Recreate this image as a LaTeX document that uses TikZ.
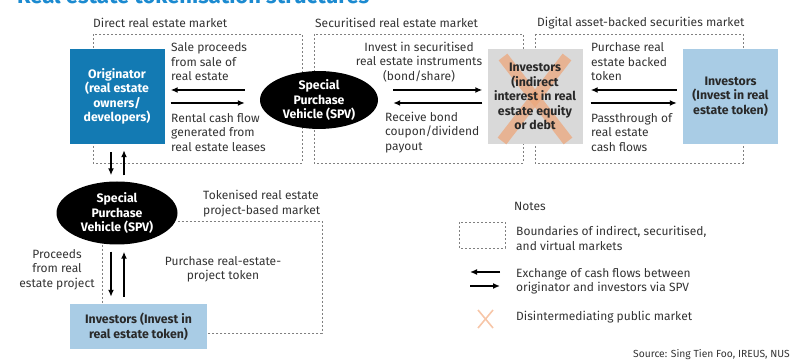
\documentclass[tikz,border=0pt]{standalone}
\usepackage{fontspec}
\setmainfont{Fira Sans}
\usetikzlibrary{arrows.meta,shapes.geometric}
\definecolor{origblue}{HTML}{137AB3}
\definecolor{lightblue}{HTML}{A9CCE5}
\definecolor{boxgray}{HTML}{D9D9D9}
\definecolor{txtgray}{HTML}{333333}
\definecolor{titleblue}{HTML}{1B8AD0}
\definecolor{peach}{HTML}{EDA77C}
\definecolor{lightpeach}{HTML}{F7C6A8}
\begin{document}
\begin{tikzpicture}[x=1pt,y=-1pt,
  font=\fontsize{12}{14.5}\selectfont,
  lbl/.style={inner sep=0pt, text=txtgray},
  bx/.style={minimum width=95pt, minimum height=95pt, inner sep=0pt, align=center,
    font=\bfseries\fontsize{12.3}{14.5}\selectfont},
  spvnode/.style={ellipse, fill=black, text=white, inner sep=0pt, align=center,
    font=\bfseries\fontsize{12.3}{14.5}\selectfont},
  boundary/.style={draw=gray, dash pattern=on 2pt off 2pt, line width=0.8pt},
  flow/.style={-{Latex[length=7pt,width=6pt]}, line width=1.4pt, draw=black}]
\useasboundingbox (0,0) rectangle (790,363);
\clip (0,0) rectangle (790,363);
% title (cut off at top, as in the reference)
\node[anchor=base west, inner sep=0pt, text=titleblue, font=\bfseries\fontsize{22}{24}\selectfont] (title) at (17,4) {Real estate tokenisation structures};
% market boxes
\draw[boundary] (93,34) rectangle (302,163);
\draw[boundary] (314,34) rectangle (523,163);
\draw[boundary] (535,34) rectangle (743,163);
\node[lbl, anchor=west] (m1) at (93,23) {Direct real estate market};
\node[lbl, anchor=west] (m2) at (315,23) {Securitised real estate market};
\node[lbl, anchor=west] (m3) at (537,23) {Digital asset-backed securities market};
% main nodes
\node[bx, fill=origblue, text=white] (orig) at (117,96.5) {Originator\\(real estate\\owners/\\developers)};
\node[spvnode, minimum width=118pt, minimum height=52pt] (spv1) at (319,100) {Special\\Purchase\\Vehicle (SPV)};
\node[bx, fill=boxgray] (inv1) at (535,96.5) {};
\draw[peach, opacity=0.75, line width=11pt] (503,57) -- (568,141);
\draw[peach, opacity=0.75, line width=11pt] (567,57) -- (502,141);
\node[inner sep=0pt, align=center, text=txtgray!80!black, font=\bfseries\fontsize{12.3}{14.5}\selectfont] (inv1t) at (inv1.center) {Investors\\(indirect\\interest in real\\estate equity\\or debt};
\node[bx, fill=lightblue, text=txtgray!80!black] (inv2) at (730.5,96.5) {Investors\\(Invest in real\\estate token)};
% arrows row
\draw[flow, shorten <=15pt, shorten >=6pt] (spv1.west |- 0,90) -- (orig.east |- 0,90);
\draw[flow, shorten <=6pt, shorten >=15pt] (orig.east |- 0,103) -- (spv1.west |- 0,103);
\draw[flow, shorten <=15pt, shorten >=5pt] (spv1.east |- 0,90) -- (inv1.west |- 0,90);
\draw[flow, shorten <=5pt, shorten >=15pt] (inv1.west |- 0,103) -- (spv1.east |- 0,103);
\draw[flow, shorten <=6pt, shorten >=8pt] (inv2.west |- 0,90) -- (inv1.east |- 0,90);
\draw[flow, shorten <=8pt, shorten >=6pt] (inv1.east |- 0,103) -- (inv2.west |- 0,103);
% row labels
\node[lbl, anchor=west, align=left] (l1) at (171,62) {Sale proceeds\\from sale of\\real estate};
\node[lbl, anchor=west, align=left] (l2) at (171,132.5) {Rental cash flow\\generated from\\real estate leases};
\node[lbl, align=center] (l3) at (419,62) {Invest in securitised\\real estate instruments\\(bond/share)};
\node[lbl, anchor=west, align=left] (l4) at (385,132.5) {Receive bond\\coupon/dividend\\payout};
\node[lbl, anchor=west, align=left] (l5) at (591,62) {Purchase real\\estate backed\\token};
\node[lbl, anchor=west, align=left] (l6) at (591,132.5) {Passthrough of\\real estate\\cash flows};
% lower structure
\node[spvnode, minimum width=121pt, minimum height=63pt] (spv2) at (117,213) {Special\\Purchase\\Vehicle (SPV)};
\node[fill=lightblue, minimum width=137pt, minimum height=45pt, inner sep=0pt, align=center, text=txtgray!80!black, font=\bfseries\fontsize{12.3}{14.5}\selectfont] (invb) at (138.5,326.5) {Investors (Invest in\\real estate token)};
\draw[flow, shorten <=8pt, shorten >=6pt] (orig.south -| 111,0) -- (spv2.north -| 111,0);
\draw[flow, shorten <=6pt, shorten >=6pt] (spv2.north -| 124,0) -- (orig.south -| 124,0);
\draw[flow, shorten <=7pt, shorten >=7pt] (spv2.south -| 111,0) -- (invb.north -| 111,0);
\draw[flow, shorten <=7pt, shorten >=7pt] (invb.north -| 124,0) -- (spv2.south -| 124,0);
\draw[boundary] (spv2.east |- 0,221) -- (322,221) -- (322,333) -- (invb.east |- 0,333);
\draw[boundary] (spv2.south -| 102,0) -- (invb.north -| 102,0);
\node[lbl, anchor=west, align=left] (t1) at (203,203.5) {Tokenised real estate\\project-based market};
\node[lbl, align=center] (t2) at (57,269.5) {Proceeds\\from real\\estate project};
\node[lbl, align=center] (t3) at (223,269.5) {Purchase real-estate-\\project token};
% legend
\node[lbl, anchor=west] (notes) at (514,206) {Notes};
\draw[boundary] (459,222) rectangle (505,248);
\node[lbl, anchor=west, align=left] (n1) at (516,238.5) {Boundaries of indirect, securitised,\\and virtual markets};
\coordinate (la) at (500,272);
\coordinate (lb) at (470,272);
\coordinate (lc) at (470,286);
\coordinate (ld) at (500,286);
\draw[flow] (la) -- (lb);
\draw[flow] (lc) -- (ld);
\node[lbl, anchor=west, align=left] (n2) at (516,281.5) {Exchange of cash flows between\\originator and investors via SPV};
\draw[lightpeach, line width=1.6pt] (478,310) -- (493,328);
\draw[lightpeach, line width=1.6pt] (493,310) -- (478,328);
\node[lbl, anchor=west] (n3) at (516,317) {Disintermediating public market};
\node[lbl, anchor=west, font=\fontsize{10.3}{12}\selectfont] (src) at (633,355) {Source: Sing Tien Foo, IREUS, NUS};
\end{tikzpicture}
\end{document}
